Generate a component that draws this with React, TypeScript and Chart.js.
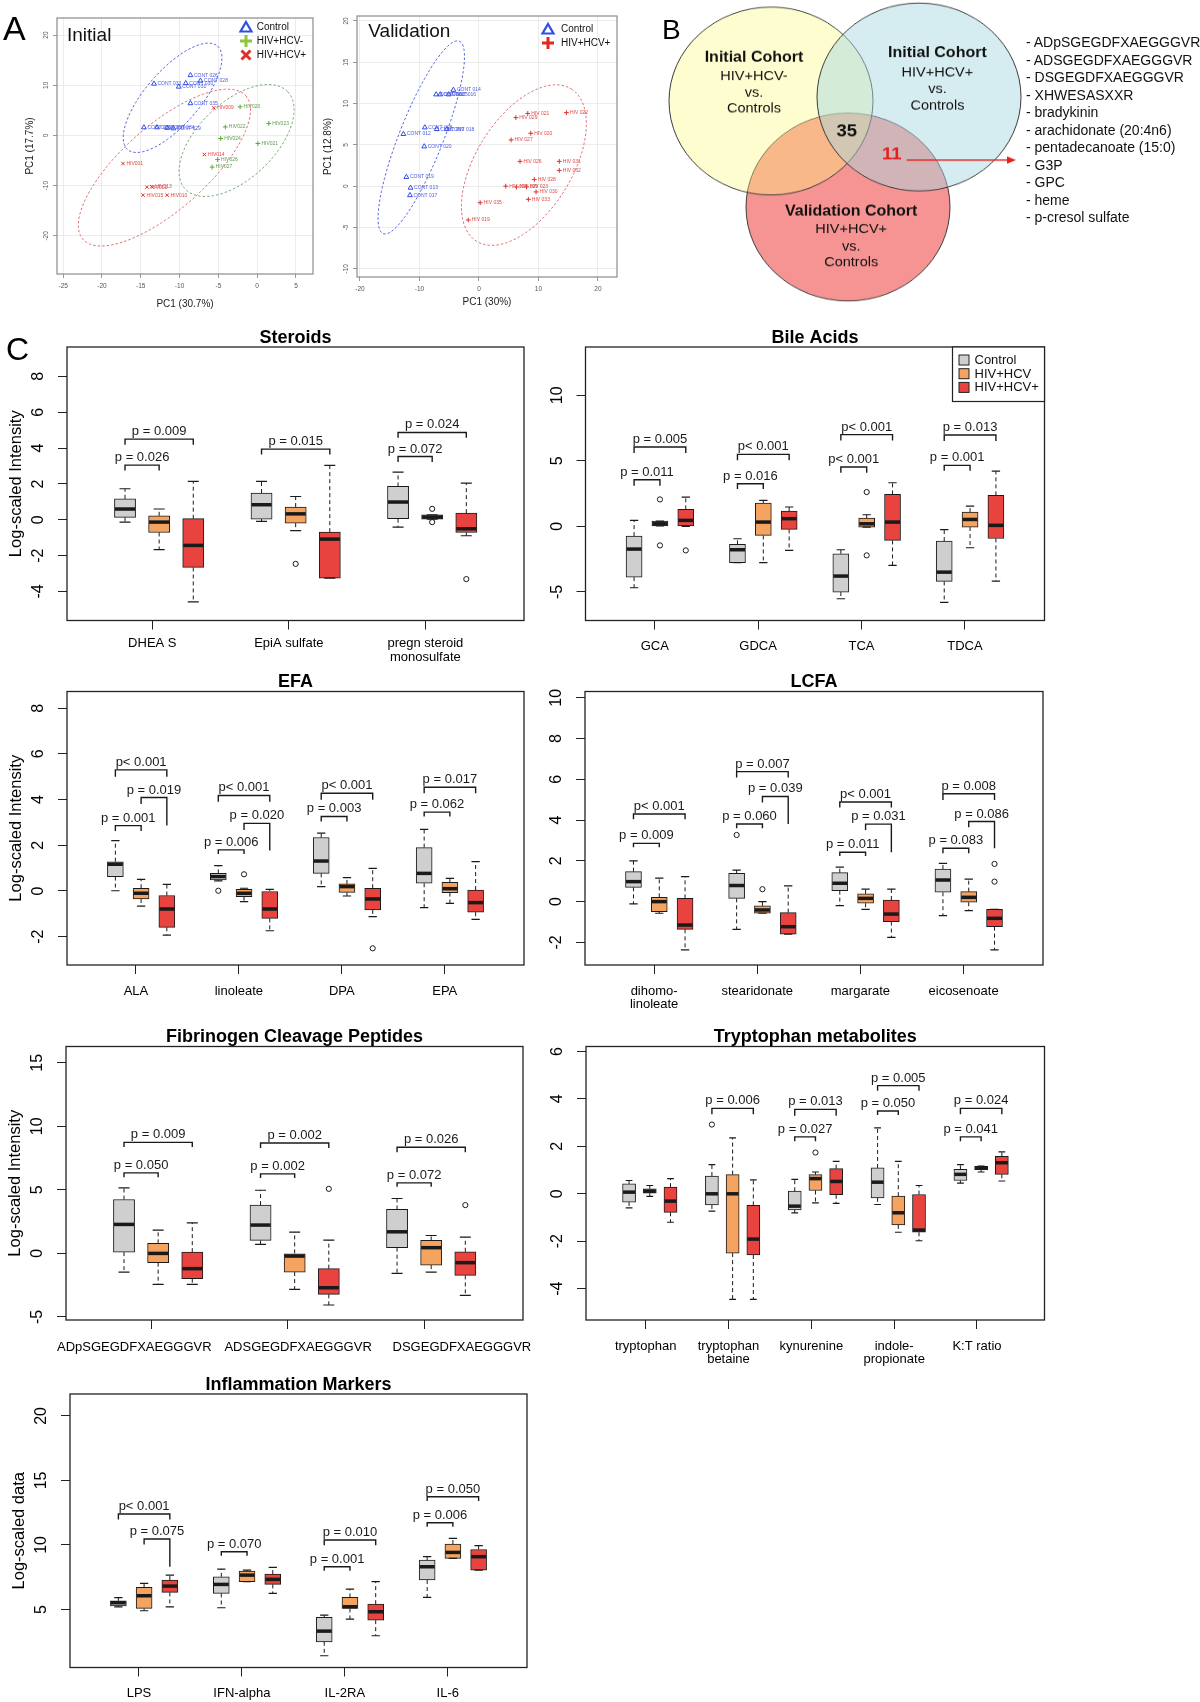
import React, { useEffect, useRef } from "react";
import { Chart, registerables } from "chart.js";

Chart.register(...registerables);

const FONT = '"Liberation Sans", Arial, Helvetica, sans-serif';
Chart.defaults.font.family = FONT;

/* ================= Panel A : PCA score plots ================= */
const initialXTicks = [-25, -20, -15, -10, -5, 0, 5];
const initialYTicks = [-20, -10, 0, 10, 20];
const initialControl = [[-8.6, 12.0], [-13.3, 10.3], [-10.1, 9.7], [-9.2, 10.4], [-7.3, 10.9], [-8.6, 6.4], [-14.6, 1.6], [-12.9, 1.6], [-11.6, 1.5], [-10.8, 1.4]];
const initialControlIds = ["CONT 026", "CONT 033", "CONT 031", "CONT 030", "CONT 028", "CONT 035", "CONT 036", "CONT 037", "CONT 034", "CONT 029"];
const initialHcvNeg = [[-2.2, 5.7], [1.5, 2.4], [-4.1, 1.7], [-4.7, -0.6], [0.1, -1.6], [-5.1, -4.8], [-5.8, -6.3]];
const initialHcvNegIds = ["HIV020", "HIV023", "HIV022", "HIV024", "HIV021", "HIV026", "HIV027"];
const initialHcvPos = [[-5.6, 5.5], [-6.8, -3.8], [-17.3, -5.6], [-14.2, -10.3], [-13.6, -10.2], [-14.7, -11.9], [-11.6, -11.9]];
const initialHcvPosIds = ["HIV009", "HIV014", "HIV001", "HIV012", "HIV013", "HIV015", "HIV010"];
// confidence ellipses: centre x, centre y, semi-axis u (x,y), semi-axis v (x,y)
const initialEllipseControl = [-10.9, 7.5, 5.8, 10.3, 2.62, -3.56];
const initialEllipseHcvNeg = [-2.65, -1.0, 6.6, 9.7, 3.38, -5.5];
const initialEllipseHcvPos = [-11.95, -6.4, 10.5, 14.3, 3.6, -6.3];

const validationXTicks = [-20, -10, 0, 10, 20];
const validationYTicks = [-10, -5, 0, 5, 10, 15, 20];
const validationControl = [[-4.3, 11.65], [-7.2, 11.1], [-6.5, 11.1], [-5.1, 11.1], [-9.1, 7.1], [-7.1, 6.9], [-5.4, 6.9], [-12.7, 6.3], [-9.2, 4.8], [-12.2, 1.1], [-11.5, -0.2], [-11.6, -1.1]];
const validationControlIds = ["CONT 014", "CONT 011", "CONT 015", "CONT 016", "CONT 008", "CONT 009", "CONT 018", "CONT 012", "CONT 020", "CONT 019", "CONT 013", "CONT 017"];
const validationHcvPos = [[8.2, 8.8], [14.7, 8.9], [6.2, 8.3], [8.7, 6.4], [5.4, 5.6], [6.9, 3.0], [13.5, 3.0], [13.5, 1.9], [9.3, 0.8], [4.5, 0.0], [6.3, -0.1], [8.0, -0.1], [9.6, -0.7], [8.3, -1.6], [0.2, -2.0], [-1.8, -4.1]];
const validationHcvPosIds = ["HIV 021", "HIV 022", "HIV 029", "HIV 020", "HIV 027", "HIV 026", "HIV 031", "HIV 032", "HIV 028", "HIV 024", "HIV 025", "HIV 023", "HIV 030", "HIV 033", "HIV 035", "HIV 019"];
const validationEllipseControl = [-9.7, 5.9, 6.4, 11.65, 3.44, -0.98];
const validationEllipseHcvPos = [7.55, 2.55, 7.97, 9.22, 6.83, -3.08];

/* ================= Panel B : Venn ================= */
const vennLeftText = ["Initial Cohort", "HIV+HCV-", "vs.", "Controls"];
const vennRightText = ["Initial Cohort", "HIV+HCV+", "vs.", "Controls"];
const vennBottomText = ["Validation Cohort", "HIV+HCV+", "vs.", "Controls"];
const vennCommonCount = "35";
const vennHcvPosCount = "11";
const overlapList = [
  "ADpSGEGDFXAEGGGVR",
  "ADSGEGDFXAEGGGVR",
  "DSGEGDFXAEGGGVR",
  "XHWESASXXR",
  "bradykinin",
  "arachidonate (20:4n6)",
  "pentadecanoate (15:0)",
  "G3P",
  "GPC",
  "heme",
  "p-cresol sulfate",
];

/* ================= Panel C : box plots ================= */
// each box: [lower whisker, Q1, median, Q3, upper whisker]
const groupNames = ["Control", "HIV+HCV", "HIV+HCV+"];

const steroidCats = [["DHEA S"], ["EpiA sulfate"], ["pregn steroid", "monosulfate"]];
const steroidControl = [[-0.13, 0.13, 0.6, 1.17, 1.73], [-0.09, 0.04, 0.84, 1.49, 2.14], [-0.41, 0.06, 0.99, 1.86, 2.66]];
const steroidHcvNeg = [[-1.67, -0.71, -0.13, 0.22, 0.6], [-0.6, -0.19, 0.33, 0.71, 1.3], [0.04, 0.04, 0.15, 0.28, 0.28]];
const steroidHcvPos = [[-4.58, -2.66, -1.43, 0.06, 2.14], [-3.26, -3.26, -1.08, -0.69, 3.03], [-0.89, -0.71, -0.5, 0.37, 2.05]];
const steroidOutliers = [[1, 1, -2.46], [2, 1, 0.61], [2, 1, -0.13], [2, 2, -3.31]];
const steroidPvals = [
  [0, 0, 2, 4.5, 4.19, 4.19, "p = 0.009"],
  [0, 0, 1, 3.05, 2.75, 2.75, "p = 0.026"],
  [1, 0, 2, 3.94, 3.64, 3.64, "p = 0.015"],
  [2, 0, 2, 4.87, 4.57, 4.57, "p = 0.024"],
  [2, 0, 1, 3.53, 3.23, 3.23, "p = 0.072"],
];
const steroidYTicks = [-4, -2, 0, 2, 4, 6, 8];

const bileCats = [["GCA"], ["GDCA"], ["TCA"], ["TDCA"]];
const bileControl = [[-4.68, -3.87, -1.73, -0.74, 0.46], [-2.77, -2.77, -1.78, -1.37, -0.94], [-5.52, -5.01, -3.79, -2.09, -1.78], [-5.8, -4.2, -3.49, -1.12, -0.25]];
const bileHcvNeg = [[0.03, 0.03, 0.2, 0.41, 0.41], [-2.77, -0.69, 0.33, 1.78, 1.98], [-0.05, -0.05, 0.2, 0.64, 0.89], [-1.63, -0.05, 0.53, 1.09, 1.55]];
const bileHcvPos = [[0, 0, 0.46, 1.3, 2.24], [-1.83, -0.23, 0.59, 1.17, 1.48], [-2.98, -1.07, 0.33, 2.44, 3.33], [-4.17, -0.92, 0.08, 2.37, 4.22]];
const bileOutliers = [[0, 1, 2.06], [0, 1, -1.45], [0, 2, -1.83], [2, 1, 2.62], [2, 1, -2.21]];
const bilePvals = [
  [0, 0, 2, 6.06, 5.6, 5.6, "p = 0.005"],
  [0, 0, 1, 3.56, 3.1, 3.1, "p = 0.011"],
  [1, 0, 2, 5.5, 5.05, 5.05, "p< 0.001"],
  [1, 0, 1, 3.26, 2.85, 2.85, "p = 0.016"],
  [2, 0, 2, 7.0, 6.55, 6.55, "p< 0.001"],
  [2, 0, 1, 4.53, 4.1, 4.1, "p< 0.001"],
  [3, 0, 2, 6.97, 6.52, 6.52, "p = 0.013"],
  [3, 0, 1, 4.66, 4.25, 4.25, "p = 0.001"],
];
const bileYTicks = [-5, 0, 5, 10];

const efaCats = [["ALA"], ["linoleate"], ["DPA"], ["EPA"]];
const efaControl = [[0.01, 0.63, 1.17, 1.28, 2.2], [0.44, 0.48, 0.63, 0.77, 1.11], [0.19, 0.77, 1.31, 2.34, 2.53], [-0.73, 0.34, 0.77, 1.9, 2.7]];
const efaHcvNeg = [[-0.66, -0.35, -0.1, 0.12, 0.51], [-0.47, -0.25, -0.1, 0.07, 0.12], [-0.22, -0.06, 0.19, 0.31, 0.58], [-0.54, -0.07, 0.1, 0.38, 0.55]];
const efaHcvPos = [[-1.93, -1.59, -0.79, -0.2, 0.29], [-1.74, -1.2, -0.79, 0, 0.07], [-1.12, -0.83, -0.35, 0.12, 0.99], [-1.24, -0.93, -0.51, 0.04, 1.28]];
const efaOutliers = [[1, 0, 0.01], [1, 1, 0.73], [2, 2, -2.51]];
const efaPvals = [
  [0, 0, 2, 5.3, 5.0, 5.0, "p< 0.001"],
  [0, 1, 2, 4.09, 3.81, 2.86, "p = 0.019"],
  [0, 0, 1, 2.86, 2.62, 2.62, "p = 0.001"],
  [1, 0, 2, 4.18, 3.91, 3.91, "p< 0.001"],
  [1, 1, 2, 2.96, 2.67, 1.77, "p = 0.020"],
  [1, 0, 1, 1.8, 1.62, 1.62, "p = 0.006"],
  [2, 0, 2, 4.28, 3.99, 3.99, "p< 0.001"],
  [2, 0, 1, 3.26, 3.04, 3.04, "p = 0.003"],
  [3, 0, 2, 4.54, 4.28, 4.28, "p = 0.017"],
  [3, 0, 1, 3.45, 3.26, 3.26, "p = 0.062"],
];
const efaYTicks = [-2, 0, 2, 4, 6, 8];

const lcfaCats = [["dihomo-", "linoleate"], ["stearidonate"], ["margarate"], ["eicosenoate"]];
const lcfaControl = [[-0.11, 0.7, 0.98, 1.47, 2.0], [-1.36, 0.16, 0.79, 1.39, 1.55], [-0.2, 0.54, 0.9, 1.42, 1.69], [-0.69, 0.46, 1.06, 1.6, 1.88]];
const lcfaHcvNeg = [[-0.57, -0.49, 0, 0.21, 1.15], [-0.57, -0.57, -0.41, -0.21, 0], [-0.38, -0.08, 0.16, 0.38, 0.61], [-0.44, -0.03, 0.21, 0.49, 1.1]];
const lcfaHcvPos = [[-2.37, -1.36, -1.15, 0.16, 1.23], [-1.6, -1.6, -1.23, -0.54, 0.77], [-1.75, -0.98, -0.61, 0.08, 0.61], [-2.37, -1.23, -0.82, -0.38, -0.38]];
const lcfaOutliers = [[1, 0, 3.27], [1, 1, 0.61], [3, 2, 1.85], [3, 2, 0.98]];
const lcfaPvals = [
  [0, 0, 2, 4.3, 4.04, 4.04, "p< 0.001"],
  [0, 0, 1, 2.86, 2.67, 2.67, "p = 0.009"],
  [1, 0, 2, 6.38, 6.09, 6.09, "p = 0.007"],
  [1, 1, 2, 5.16, 4.86, 3.81, "p = 0.039"],
  [1, 0, 1, 3.81, 3.6, 3.6, "p = 0.060"],
  [2, 0, 2, 4.89, 4.62, 4.62, "p< 0.001"],
  [2, 1, 2, 3.8, 3.52, 2.42, "p = 0.031"],
  [2, 0, 1, 2.42, 2.24, 2.24, "p = 0.011"],
  [3, 0, 2, 5.29, 4.99, 4.99, "p = 0.008"],
  [3, 1, 2, 3.93, 3.65, 2.62, "p = 0.086"],
  [3, 0, 1, 2.62, 2.37, 2.37, "p = 0.083"],
];
const lcfaYTicks = [-2, 0, 2, 4, 6, 8, 10];

const fibCats = [["ADpSGEGDFXAEGGGVR"], ["ADSGEGDFXAEGGGVR"], ["DSGEGDFXAEGGGVR"]];
const fibLabelX = [1.3, 6.1, 10.9];
const fibControl = [[-1.47, 0.1, 2.28, 4.24, 5.16], [0.71, 1.02, 2.23, 3.8, 4.97], [-1.57, 0.45, 1.7, 3.46, 4.32]];
const fibHcvNeg = [[-2.43, -0.73, 0, 0.79, 1.83], [-2.83, -1.47, -0.21, 0, 1.68], [-1.47, -0.92, 0.45, 1.02, 1.41]];
const fibHcvPos = [[-2.43, -1.99, -1.2, 0.1, 2.41], [-4.06, -3.22, -2.7, -1.2, 1.05], [-3.3, -1.73, -0.73, 0.13, 1.28]];
const fibOutliers = [[1, 2, 5.08], [2, 2, 3.8]];
const fibPvals = [
  [0, 0, 2, 8.74, 8.38, 8.38, "p = 0.009"],
  [0, 0, 1, 6.34, 6.0, 6.0, "p = 0.050"],
  [1, 0, 2, 8.69, 8.3, 8.3, "p = 0.002"],
  [1, 0, 1, 6.26, 5.94, 5.94, "p = 0.002"],
  [2, 0, 2, 8.35, 7.96, 7.96, "p = 0.026"],
  [2, 0, 1, 5.55, 5.24, 5.24, "p = 0.072"],
];
const fibYTicks = [-5, 0, 5, 10, 15];

const trpCats = [["tryptophan"], ["tryptophan", "betaine"], ["kynurenine"], ["indole-", "propionate"], ["K:T ratio"]];
const trpControl = [[-0.59, -0.35, 0.07, 0.42, 0.56], [-0.73, -0.47, 0, 0.75, 1.23], [-0.8, -0.68, -0.52, 0.11, 0.61], [-0.45, -0.17, 0.49, 1.09, 2.78], [0.45, 0.56, 0.82, 1.03, 1.23]];
const trpHcvNeg = [[-0.11, 0.03, 0.11, 0.21, 0.35], [-4.45, -2.5, 0, 0.81, 2.36], [-0.38, 0.14, 0.64, 0.81, 0.92], [-1.62, -1.31, -0.8, -0.1, 1.37], [0.92, 1.02, 1.1, 1.16, 1.17]];
const trpHcvPos = [[-1.2, -0.78, -0.31, 0.28, 0.64], [-4.45, -2.58, -1.91, -0.49, 0.59], [-0.4, -0.04, 0.52, 1.06, 1.37], [-1.98, -1.62, -1.53, -0.03, 0.35], [0.54, 0.82, 1.31, 1.58, 1.77]];
const trpOutliers = [[1, 0, 2.92], [2, 1, 1.74]];
const trpPvals = [
  [1, 0, 2, 3.6, 3.35, 3.35, "p = 0.006"],
  [2, 0, 2, 3.56, 3.29, 3.29, "p = 0.013"],
  [2, 0, 1, 2.4, 2.22, 2.22, "p = 0.027"],
  [3, 0, 2, 4.56, 4.34, 4.34, "p = 0.005"],
  [3, 0, 1, 3.49, 3.32, 3.32, "p = 0.050"],
  [4, 0, 2, 3.6, 3.35, 3.35, "p = 0.024"],
  [4, 0, 1, 2.4, 2.22, 2.22, "p = 0.041"],
];
const trpYTicks = [-4, -2, 0, 2, 4, 6];

const inflCats = [["LPS"], ["IFN-alpha"], ["IL-2RA"], ["IL-6"]];
const inflControl = [[5.2, 5.28, 5.52, 5.67, 5.91], [5.13, 6.24, 6.94, 7.53, 8.13], [1.41, 2.49, 3.32, 4.38, 4.56], [5.93, 7.28, 8.31, 8.83, 9.09]];
const inflHcvNeg = [[4.9, 5.08, 6.06, 6.71, 7.02], [7.15, 7.15, 7.66, 7.97, 8.05], [4.25, 5.08, 5.21, 5.93, 6.58], [8.96, 8.96, 9.42, 10.07, 10.51]];
const inflHcvPos = [[5.2, 6.32, 6.81, 7.28, 7.66], [6.24, 6.94, 7.33, 7.74, 8.26], [2.96, 4.17, 4.82, 5.41, 7.15], [8.05, 8.05, 9.09, 9.65, 9.94]];
const inflOutliers: number[][] = [];
const inflPvals = [
  [0, 0, 2, 12.4, 11.98, 11.98, "p< 0.001"],
  [0, 1, 2, 10.46, 10.04, 8.31, "p = 0.075"],
  [1, 0, 1, 9.47, 9.16, 9.16, "p = 0.070"],
  [2, 0, 2, 10.38, 9.97, 9.97, "p = 0.010"],
  [2, 0, 1, 8.31, 8.0, 8.0, "p = 0.001"],
  [3, 0, 2, 13.74, 13.4, 13.4, "p = 0.050"],
  [3, 0, 1, 11.72, 11.41, 11.41, "p = 0.006"],
];
const inflYTicks = [5, 10, 15, 20];

/* ================= styles / layout ================= */
const BOX_FILL = ["#CFCFCF", "#F4A460", "#E8433E"];
const INK = "#1a1a1a";
const boxPos = (c: number, g: number) => 4 * c + g + 1;
const tickPos = (c: number) => 4 * c + 1.8;

const boxPanels: any[] = [
  { title: "Steroids", cats: steroidCats, groups: [steroidControl, steroidHcvNeg, steroidHcvPos], outliers: steroidOutliers, pvals: steroidPvals, yTicks: steroidYTicks, y: [-5.62, 9.64], x: [-0.7, 12.69], box: [67, 347, 524, 620.5], cx: 0, cw: 540, yTitle: "Log-scaled Intensity", labelDy: 23, boxUnits: 0.62 },
  { title: "Bile Acids", cats: bileCats, groups: [bileControl, bileHcvNeg, bileHcvPos], outliers: bileOutliers, pvals: bilePvals, yTicks: bileYTicks, y: [-7.18, 13.69], x: [-0.88, 16.88], box: [585.5, 347, 1044.5, 620.5], cx: 540, cw: 560, legend: true, labelDy: 26, boxUnits: 0.62 },
  { title: "EFA", cats: efaCats, groups: [efaControl, efaHcvNeg, efaHcvPos], outliers: efaOutliers, pvals: efaPvals, yTicks: efaYTicks, y: [-3.24, 8.73], x: [-0.88, 16.88], box: [67, 691.5, 524, 965], cx: 0, cw: 540, yTitle: "Log-scaled Intensity", labelDy: 26, boxUnits: 0.62 },
  { title: "LCFA", cats: lcfaCats, groups: [lcfaControl, lcfaHcvNeg, lcfaHcvPos], outliers: lcfaOutliers, pvals: lcfaPvals, yTicks: lcfaYTicks, y: [-3.11, 10.31], x: [-0.88, 16.88], box: [585, 691.5, 1043, 965], cx: 540, cw: 560, labelDy: 26, boxUnits: 0.62 },
  { title: "Fibrinogen Cleavage Peptides", cats: fibCats, labelX: fibLabelX, groups: [fibControl, fibHcvNeg, fibHcvPos], outliers: fibOutliers, pvals: fibPvals, yTicks: fibYTicks, y: [-5.24, 16.28], x: [-0.7, 12.69], box: [66, 1046.5, 523, 1320], cx: 0, cw: 540, yTitle: "Log-scaled Intensity", labelDy: 27, boxUnits: 0.62 },
  { title: "Tryptophan metabolites", cats: trpCats, groups: [trpControl, trpHcvNeg, trpHcvPos], outliers: trpOutliers, pvals: trpPvals, yTicks: trpYTicks, y: [-5.32, 6.21], x: [-1.08, 21.06], box: [586, 1046.5, 1044.5, 1320], cx: 540, cw: 560, labelDy: 26, boxUnits: 0.63 },
  { title: "Inflammation Markers", cats: inflCats, groups: [inflControl, inflHcvNeg, inflHcvPos], outliers: inflOutliers, pvals: inflPvals, yTicks: inflYTicks, y: [0.5, 21.7], x: [-0.88, 16.88], box: [70, 1394, 527, 1667.5], cx: 0, cw: 540, yTitle: "Log-scaled data", labelDy: 26, boxUnits: 0.62 },
];

function BoxPanel({ spec }: { spec: any }) {
  const ref = useRef<HTMLCanvasElement>(null);
  const [l, t, r, b] = spec.box;
  const cx = spec.cx;
  const cw = spec.cw;
  const cy = Math.floor(t) - 36;
  const ch = Math.ceil(b) + 54 - cy;
  useEffect(() => {
    const AX = 10;
    const bw = (spec.boxUnits * (r - l)) / (spec.x[1] - spec.x[0]);
    const deco = {
      id: "boxDeco",
      afterDatasetsDraw(chart: any) {
        const { ctx, chartArea: a } = chart;
        const xs = chart.scales.x;
        const ys = chart.scales.y;
        ctx.save();
        // whiskers, staples, medians
        spec.groups.forEach((gr: number[][], g: number) =>
          gr.forEach((bx: number[], c: number) => {
            const px = xs.getPixelForValue(boxPos(c, g));
            const [lo, q1, med, q3, hi] = bx;
            ctx.strokeStyle = INK;
            ctx.lineWidth = 1;
            ctx.setLineDash([4, 3]);
            ctx.beginPath();
            if (hi > q3) {
              ctx.moveTo(px, ys.getPixelForValue(q3));
              ctx.lineTo(px, ys.getPixelForValue(hi));
            }
            if (lo < q1) {
              ctx.moveTo(px, ys.getPixelForValue(q1));
              ctx.lineTo(px, ys.getPixelForValue(lo));
            }
            ctx.stroke();
            ctx.setLineDash([]);
            const sw = bw * 0.26;
            ctx.lineWidth = 1.2;
            ctx.beginPath();
            [lo, hi].forEach((v) => {
              const py = ys.getPixelForValue(v);
              ctx.moveTo(px - sw, py);
              ctx.lineTo(px + sw, py);
            });
            ctx.stroke();
            ctx.lineWidth = 3.5;
            ctx.beginPath();
            const pm = ys.getPixelForValue(med);
            ctx.moveTo(px - bw / 2 + 0.5, pm);
            ctx.lineTo(px + bw / 2 - 0.5, pm);
            ctx.stroke();
          })
        );
        // significance brackets
        ctx.lineWidth = 1.4;
        ctx.strokeStyle = INK;
        ctx.fillStyle = INK;
        ctx.font = `13px ${FONT}`;
        ctx.textAlign = "center";
        ctx.textBaseline = "alphabetic";
        spec.pvals.forEach((p: any[]) => {
          const [c, f, to, yv, ll, lr, lab] = p;
          const x1 = xs.getPixelForValue(boxPos(c, f));
          const x2 = xs.getPixelForValue(boxPos(c, to));
          const py = ys.getPixelForValue(yv);
          ctx.beginPath();
          ctx.moveTo(x1, ys.getPixelForValue(ll));
          ctx.lineTo(x1, py);
          ctx.lineTo(x2, py);
          ctx.lineTo(x2, ys.getPixelForValue(lr));
          ctx.stroke();
          ctx.fillText(lab, (x1 + x2) / 2, py - 4);
        });
        // frame
        ctx.lineWidth = 1.3;
        ctx.strokeStyle = "#222";
        ctx.strokeRect(a.left, a.top, a.right - a.left, a.bottom - a.top);
        // title
        ctx.fillStyle = "#000";
        ctx.font = `bold 18px ${FONT}`;
        ctx.textAlign = "center";
        ctx.fillText(spec.title, (a.left + a.right) / 2, a.top - 4.5);
        // y tick labels (rotated, R style)
        ctx.font = `16px ${FONT}`;
        ctx.textBaseline = "middle";
        ys.ticks.forEach((tk: any) => {
          ctx.save();
          ctx.translate(a.left - 28, ys.getPixelForValue(tk.value));
          ctx.rotate(-Math.PI / 2);
          ctx.fillText(String(tk.value), 0, 0);
          ctx.restore();
        });
        // x category labels
        ctx.font = `13px ${FONT}`;
        spec.cats.forEach((lines: string[], c: number) => {
          const xv = spec.labelX ? spec.labelX[c] : xs.ticks[c].value;
          const px = xs.getPixelForValue(xv);
          lines.forEach((ln, i) => ctx.fillText(ln, px, a.bottom + spec.labelDy + i * 13.5));
        });
        // y axis title
        if (spec.yTitle) {
          ctx.save();
          ctx.font = `16.5px ${FONT}`;
          ctx.translate(a.left - 51, (a.top + a.bottom) / 2);
          ctx.rotate(-Math.PI / 2);
          ctx.fillText(spec.yTitle, 0, 0);
          ctx.restore();
        }
        // legend
        if (spec.legend) {
          const lw = 92;
          const lh = 54.5;
          const lx = a.right - lw;
          const ly = a.top;
          ctx.fillStyle = "#fff";
          ctx.fillRect(lx, ly, lw, lh);
          ctx.lineWidth = 1.2;
          ctx.strokeStyle = "#222";
          ctx.strokeRect(lx, ly, lw, lh);
          ctx.font = `13px ${FONT}`;
          ctx.textAlign = "left";
          chart.data.datasets.forEach((ds: any, i: number) => {
            if (ds.type !== "bar") return;
            const yy = ly + 13 + i * 13.7;
            ctx.fillStyle = ds.backgroundColor;
            ctx.fillRect(lx + 6.5, yy - 5, 10, 10);
            ctx.lineWidth = 1;
            ctx.strokeRect(lx + 6.5, yy - 5, 10, 10);
            ctx.fillStyle = "#111";
            ctx.fillText(ds.label, lx + 22, yy + 0.5);
          });
        }
        ctx.restore();
      },
    };
    const datasets: any[] = spec.groups.map((gr: number[][], g: number) => ({
      type: "bar",
      label: groupNames[g],
      data: gr.map((bx, c) => ({ x: boxPos(c, g), y: [bx[1], bx[3]] })),
      backgroundColor: BOX_FILL[g],
      borderColor: INK,
      borderWidth: 1,
      borderSkipped: false,
      grouped: false,
      barThickness: bw,
      order: 1,
    }));
    datasets.push({
      type: "scatter",
      label: "outliers",
      data: spec.outliers.map((o: number[]) => ({ x: boxPos(o[0], o[1]), y: o[2] })),
      pointStyle: "circle",
      pointRadius: 2.6,
      pointBorderColor: INK,
      pointBackgroundColor: "#fff",
      pointBorderWidth: 1,
      order: 0,
    });
    const axisGrid = { display: true, drawOnChartArea: false, drawTicks: true, tickLength: 9, color: "#222", lineWidth: 1, offset: false };
    const chart = new Chart(ref.current as HTMLCanvasElement, {
      type: "bar",
      data: { datasets },
      options: {
        responsive: false,
        animation: false,
        events: [],
        layout: { autoPadding: false, padding: { left: l - cx - AX, right: cx + cw - r, top: t - cy, bottom: cy + ch - b - AX } },
        plugins: { legend: { display: false }, tooltip: { enabled: false }, title: { display: false } },
        scales: {
          x: {
            type: "linear",
            min: spec.x[0],
            max: spec.x[1],
            offset: false,
            afterBuildTicks: (s: any) => {
              s.ticks = spec.cats.map((_: any, c: number) => ({ value: tickPos(c) }));
            },
            afterFit: (s: any) => {
              s.height = AX;
            },
            ticks: { display: false },
            grid: axisGrid,
            border: { display: false },
          },
          y: {
            type: "linear",
            min: spec.y[0],
            max: spec.y[1],
            beginAtZero: false,
            afterBuildTicks: (s: any) => {
              s.ticks = spec.yTicks.map((v: number) => ({ value: v }));
            },
            afterFit: (s: any) => {
              s.width = AX;
            },
            ticks: { display: false },
            grid: axisGrid,
            border: { display: false },
          },
        },
      },
      plugins: [deco],
    } as any);
    return () => chart.destroy();
  }, []);
  return <canvas ref={ref} width={cw} height={ch} style={{ position: "absolute", left: cx, top: cy, width: cw, height: ch }} />;
}

/* ================= PCA panel ================= */
const pcaSpecs: any[] = [
  {
    box: [57, 18, 313, 274], canvas: [0, 0, 330, 315], xr: [-25.8, 7.2], yr: [-27.6, 23.4],
    xTicks: initialXTicks, yTicks: initialYTicks,
    title: "Initial", titleAt: [10, 22.7], titleSize: 19,
    xTitle: "PC1 (30.7%)", xTitleDy: 30, yTitle: "PC1 (17.7%)", yTitleDx: -26.3,
    legendAt: [-67, 9, 14, 10.7],
    groups: [
      { name: "Control", pts: initialControl, ids: initialControlIds, ell: initialEllipseControl, style: "triangle", color: "#2F4FE8", ellColor: "#5563dc", labColor: "#4d5be0", sym: "tri" },
      { name: "HIV+HCV-", pts: initialHcvNeg, ids: initialHcvNegIds, ell: initialEllipseHcvNeg, style: "cross", color: "#5FA83A", ellColor: "#7aa77a", labColor: "#5e9e4e", sym: "plus", symColor: "#8CC63F" },
      { name: "HIV+HCV+", pts: initialHcvPos, ids: initialHcvPosIds, ell: initialEllipseHcvPos, style: "crossRot", color: "#E0302A", ellColor: "#e07070", labColor: "#e04848", sym: "x" },
    ],
  },
  {
    box: [357, 16, 617, 277], canvas: [318, 0, 312, 315], xr: [-20.5, 23.2], yr: [-11.0, 20.6],
    xTicks: validationXTicks, yTicks: validationYTicks,
    title: "Validation", titleAt: [11.3, 21], titleSize: 19,
    xTitle: "PC1 (30%)", xTitleDy: 25, yTitle: "PC1 (12.8%)", yTitleDx: -28.7,
    legendAt: [-69, 13, 14, 13],
    groups: [
      { name: "Control", pts: validationControl, ids: validationControlIds, ell: validationEllipseControl, style: "triangle", color: "#2F4FE8", ellColor: "#5563dc", labColor: "#4d5be0", sym: "tri" },
      { name: "HIV+HCV+", pts: validationHcvPos, ids: validationHcvPosIds, ell: validationEllipseHcvPos, style: "cross", color: "#E0302A", ellColor: "#e07070", labColor: "#e04848", sym: "plus", symColor: "#E8241C" },
    ],
  },
];

function drawSymbol(ctx: any, sym: string, x: number, y: number, color: string) {
  ctx.save();
  ctx.strokeStyle = color;
  ctx.lineCap = "butt";
  ctx.beginPath();
  if (sym === "tri") {
    ctx.lineWidth = 2.2;
    ctx.moveTo(x, y - 5);
    ctx.lineTo(x + 5.5, y + 4.5);
    ctx.lineTo(x - 5.5, y + 4.5);
    ctx.closePath();
  } else if (sym === "plus") {
    ctx.lineWidth = 3;
    ctx.moveTo(x - 6, y);
    ctx.lineTo(x + 6, y);
    ctx.moveTo(x, y - 6);
    ctx.lineTo(x, y + 6);
  } else {
    ctx.lineWidth = 3;
    ctx.moveTo(x - 4.5, y - 4.5);
    ctx.lineTo(x + 4.5, y + 4.5);
    ctx.moveTo(x + 4.5, y - 4.5);
    ctx.lineTo(x - 4.5, y + 4.5);
  }
  ctx.stroke();
  ctx.restore();
}

function PcaPanel({ spec }: { spec: any }) {
  const ref = useRef<HTMLCanvasElement>(null);
  const [cx, cy, cw, ch] = spec.canvas;
  useEffect(() => {
    const [l, t, r, b] = spec.box;
    const AX = 6;
    const deco = {
      id: "pcaDeco",
      beforeDatasetsDraw(chart: any) {
        const { ctx } = chart;
        const xs = chart.scales.x;
        const ys = chart.scales.y;
        ctx.save();
        spec.groups.forEach((g: any) => {
          const [ecx, ecy, ux, uy, vx, vy] = g.ell;
          const c0x = xs.getPixelForValue(ecx);
          const c0y = ys.getPixelForValue(ecy);
          const upx = xs.getPixelForValue(ecx + ux) - c0x;
          const upy = ys.getPixelForValue(ecy + uy) - c0y;
          const vpx = xs.getPixelForValue(ecx + vx) - c0x;
          const vpy = ys.getPixelForValue(ecy + vy) - c0y;
          ctx.strokeStyle = g.ellColor;
          ctx.lineWidth = 1;
          ctx.setLineDash([2.5, 2]);
          ctx.beginPath();
          for (let i = 0; i <= 120; i++) {
            const a = (i / 120) * Math.PI * 2;
            const px = c0x + upx * Math.cos(a) + vpx * Math.sin(a);
            const py = c0y + upy * Math.cos(a) + vpy * Math.sin(a);
            if (i === 0) ctx.moveTo(px, py);
            else ctx.lineTo(px, py);
          }
          ctx.stroke();
        });
        ctx.restore();
      },
      afterDatasetsDraw(chart: any) {
        const { ctx, chartArea: a } = chart;
        const xs = chart.scales.x;
        const ys = chart.scales.y;
        ctx.save();
        // point labels
        ctx.font = `5px ${FONT}`;
        ctx.textAlign = "left";
        ctx.textBaseline = "middle";
        spec.groups.forEach((g: any, gi: number) => {
          ctx.fillStyle = g.labColor;
          chart.getDatasetMeta(gi).data.forEach((pt: any, j: number) => {
            ctx.fillText(g.ids[j], pt.x + 3.5, pt.y);
          });
        });
        // frame
        ctx.strokeStyle = "#8c8c8c";
        ctx.lineWidth = 1.2;
        ctx.strokeRect(a.left, a.top, a.right - a.left, a.bottom - a.top);
        // tick labels
        ctx.fillStyle = "#555";
        ctx.font = `6.5px ${FONT}`;
        ctx.textAlign = "center";
        xs.ticks.forEach((tk: any) => ctx.fillText(String(tk.value), xs.getPixelForValue(tk.value), a.bottom + 12));
        ys.ticks.forEach((tk: any) => {
          ctx.save();
          ctx.translate(a.left - 11, ys.getPixelForValue(tk.value));
          ctx.rotate(-Math.PI / 2);
          ctx.fillText(String(tk.value), 0, 0);
          ctx.restore();
        });
        // axis titles
        ctx.fillStyle = "#222";
        ctx.font = `10px ${FONT}`;
        ctx.fillText(spec.xTitle, (a.left + a.right) / 2, a.bottom + spec.xTitleDy);
        ctx.save();
        ctx.translate(a.left + spec.yTitleDx, (a.top + a.bottom) / 2);
        ctx.rotate(-Math.PI / 2);
        ctx.fillText(spec.yTitle, 0, 0);
        ctx.restore();
        // panel title
        ctx.fillStyle = "#111";
        ctx.font = `${spec.titleSize}px ${FONT}`;
        ctx.textAlign = "left";
        ctx.textBaseline = "alphabetic";
        ctx.fillText(spec.title, a.left + spec.titleAt[0], a.top + spec.titleAt[1]);
        // legend
        const [ldx, ly0, lsp, ltx] = spec.legendAt;
        ctx.font = `10px ${FONT}`;
        ctx.textBaseline = "middle";
        spec.groups.forEach((g: any, i: number) => {
          const sx = a.right + ldx;
          const sy = a.top + ly0 + i * lsp;
          drawSymbol(ctx, g.sym, sx, sy, g.symColor || g.color);
          ctx.fillStyle = "#111";
          ctx.fillText(g.name, sx + ltx, sy);
        });
        ctx.restore();
      },
    };
    const grid = { display: true, drawOnChartArea: true, drawTicks: true, tickLength: 4, color: "#ececec", tickColor: "#999", lineWidth: 1, offset: false };
    const chart = new Chart(ref.current as HTMLCanvasElement, {
      type: "scatter",
      data: {
        datasets: spec.groups.map((g: any) => ({
          label: g.name,
          data: g.pts.map((p: number[]) => ({ x: p[0], y: p[1] })),
          pointStyle: g.style,
          pointRadius: g.style === "triangle" ? 2.8 : 2.4,
          pointBorderColor: g.color,
          pointBackgroundColor: "rgba(0,0,0,0)",
          pointBorderWidth: 1,
        })),
      },
      options: {
        responsive: false,
        animation: false,
        events: [],
        layout: { autoPadding: false, padding: { left: l - cx - AX, right: cx + cw - r, top: t - cy, bottom: cy + ch - b - AX } },
        plugins: { legend: { display: false }, tooltip: { enabled: false } },
        scales: {
          x: {
            type: "linear", min: spec.xr[0], max: spec.xr[1], offset: false,
            afterBuildTicks: (s: any) => { s.ticks = spec.xTicks.map((v: number) => ({ value: v })); },
            afterFit: (s: any) => { s.height = AX; },
            ticks: { display: false }, grid, border: { display: false },
          },
          y: {
            type: "linear", min: spec.yr[0], max: spec.yr[1],
            afterBuildTicks: (s: any) => { s.ticks = spec.yTicks.map((v: number) => ({ value: v })); },
            afterFit: (s: any) => { s.width = AX; },
            ticks: { display: false }, grid, border: { display: false },
          },
        },
      },
      plugins: [deco],
    } as any);
    return () => chart.destroy();
  }, []);
  return <canvas ref={ref} width={cw} height={ch} style={{ position: "absolute", left: cx, top: cy, width: cw, height: ch }} />;
}

/* ================= Venn panel ================= */
const VENN_K = 0.9216; // vertical squash of the original figure
const VENN_X = [620, 1040];
const VENN_Y = [0, 304];
const vennCircles = [
  { name: "Initial HIV+HCV+ vs Controls", c: [919, 97], fill: "rgba(168,215,224,0.48)" },
  { name: "Initial HIV+HCV- vs Controls", c: [771, 101], fill: "rgba(252,249,123,0.36)" },
  { name: "Validation HIV+HCV+ vs Controls", c: [848, 207], fill: "rgb(246,148,148)" },
];
const vennTextLayout = [
  { lines: vennLeftText, x: 754, ys: [57.3, 76, 92.7, 109] },
  { lines: vennRightText, x: 937.4, ys: [53.3, 72.7, 89.3, 106] },
  { lines: vennBottomText, x: 851.2, ys: [211.7, 229.3, 246.7, 262.7] },
];

function VennPanel() {
  const ref = useRef<HTMLCanvasElement>(null);
  const W = VENN_X[1] - VENN_X[0];
  const H = Math.round((VENN_Y[1] - VENN_Y[0]) / VENN_K);
  useEffect(() => {
    const deco = {
      id: "vennDeco",
      afterDatasetsDraw(chart: any) {
        const { ctx } = chart;
        const xs = chart.scales.x;
        const ys = chart.scales.y;
        ctx.save();
        ctx.textAlign = "center";
        ctx.textBaseline = "middle";
        ctx.fillStyle = "#111";
        vennTextLayout.forEach((blk) => {
          blk.lines.forEach((ln, i) => {
            ctx.font = i === 0 ? `bold 16px ${FONT}` : `14.5px ${FONT}`;
            ctx.fillText(ln, xs.getPixelForValue(blk.x), ys.getPixelForValue(blk.ys[i]));
          });
        });
        ctx.font = `bold 18.5px ${FONT}`;
        ctx.fillText(vennCommonCount, xs.getPixelForValue(846.7), ys.getPixelForValue(131.7));
        ctx.fillStyle = "#E3201B";
        ctx.fillText(vennHcvPosCount, xs.getPixelForValue(891.7), ys.getPixelForValue(155));
        // arrow
        const ay = ys.getPixelForValue(160);
        const ax1 = xs.getPixelForValue(906.7);
        const ax2 = xs.getPixelForValue(1016);
        ctx.strokeStyle = "#E3201B";
        ctx.lineWidth = 1.6;
        ctx.beginPath();
        ctx.moveTo(ax1, ay);
        ctx.lineTo(ax2 - 6, ay);
        ctx.stroke();
        ctx.beginPath();
        ctx.moveTo(ax2, ay);
        ctx.lineTo(ax2 - 9, ay - 4);
        ctx.lineTo(ax2 - 9, ay + 4);
        ctx.closePath();
        ctx.fill();
        ctx.restore();
      },
    };
    const chart = new Chart(ref.current as HTMLCanvasElement, {
      type: "scatter",
      data: {
        datasets: vennCircles.map((v) => ({
          label: v.name,
          data: [{ x: v.c[0], y: v.c[1] }],
          pointRadius: 102,
          pointBackgroundColor: v.fill,
          pointBorderColor: "#3a3a3a",
          pointBorderWidth: 1,
          clip: false,
        })),
      },
      options: {
        responsive: false,
        animation: false,
        events: [],
        layout: { autoPadding: false, padding: 0 },
        plugins: { legend: { display: false }, tooltip: { enabled: false } },
        scales: {
          x: { type: "linear", min: VENN_X[0], max: VENN_X[1], display: false },
          y: { type: "linear", min: VENN_Y[0], max: VENN_Y[1], reverse: true, display: false },
        },
      },
      plugins: [deco],
    } as any);
    return () => chart.destroy();
  }, []);
  return <canvas ref={ref} width={W} height={H} style={{ position: "absolute", left: VENN_X[0], top: VENN_Y[0], width: W, height: VENN_Y[1] - VENN_Y[0] }} />;
}

/* ================= App ================= */
const letterStyle = (left: number, top: number, size: number): React.CSSProperties => ({
  position: "absolute",
  left,
  top,
  fontSize: size,
  lineHeight: 1,
  fontFamily: FONT,
  color: "#000",
});

export default function App() {
  return (
    <div style={{ position: "absolute", left: 0, top: 0, width: 1200, height: 1702, background: "#fff", overflow: "hidden", fontFamily: FONT }}>
      {pcaSpecs.map((s, i) => (
        <PcaPanel key={"pca" + i} spec={s} />
      ))}
      <VennPanel />
      {boxPanels.map((s, i) => (
        <BoxPanel key={"box" + i} spec={s} />
      ))}
      <div style={letterStyle(3, 11, 34)}>A</div>
      <div style={letterStyle(662, 16, 28)}>B</div>
      <div style={letterStyle(6, 333, 32)}>C</div>
      <div style={{ position: "absolute", left: 1026, top: 34, fontSize: 14, lineHeight: "17.5px", whiteSpace: "pre", color: "#111", fontFamily: FONT }}>
        {overlapList.map((s) => (
          <div key={s}>{"- " + s}</div>
        ))}
      </div>
    </div>
  );
}
